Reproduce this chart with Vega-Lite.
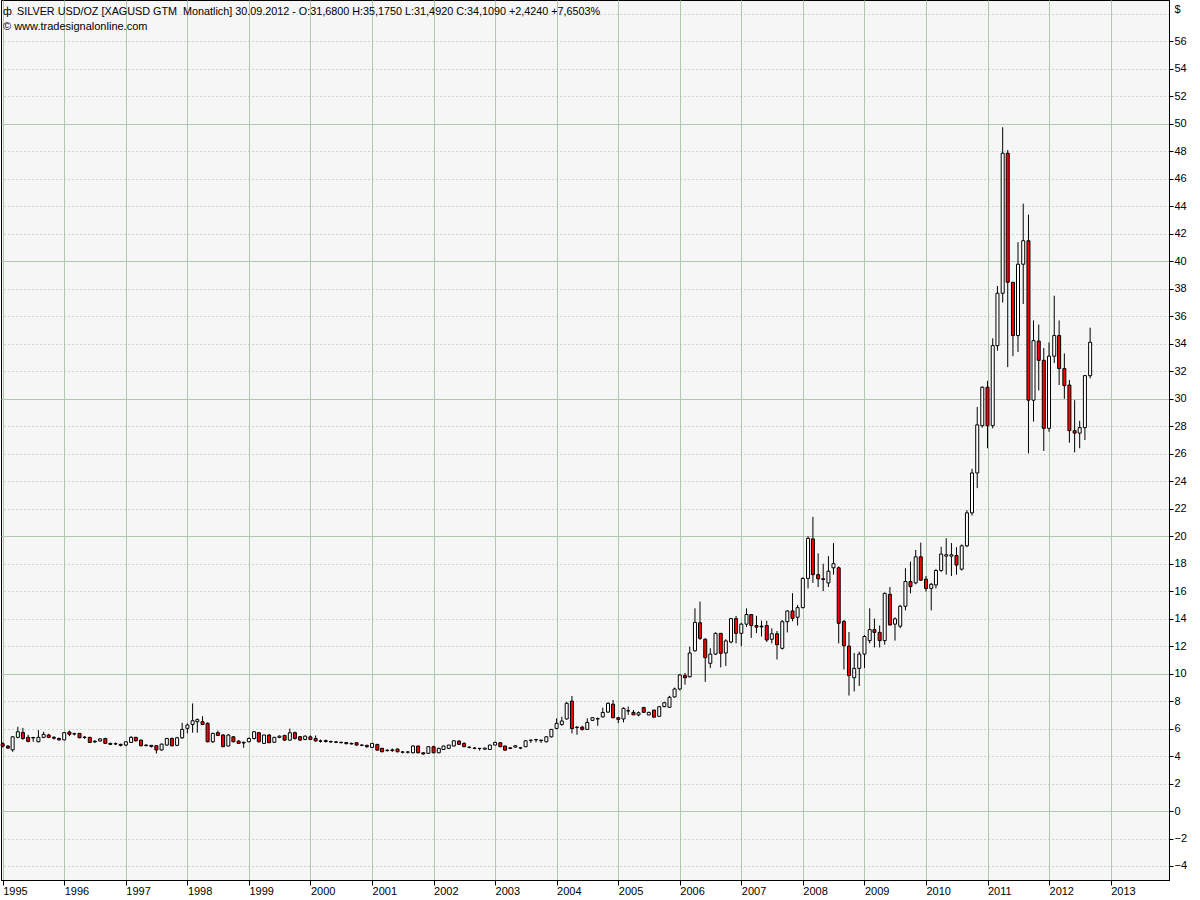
{
  "$schema": "https://vega.github.io/schema/vega-lite/v6.json",
  "autosize": "none",
  "width": 1168,
  "height": 880,
  "padding": {"left": 1, "top": 0, "right": 31, "bottom": 20},
  "background": "#ffffff",
  "config": {
    "font": "Liberation Sans",
    "view": {"fill": "#f6f6f6", "stroke": "#000000", "strokeWidth": 1}
  },
  "title": {
    "text": "ф\u2009\u00a0SILVER USD/OZ [XAGUSD GTM\u00a0 Monatlich] 30.09.2012 - O:31,6800 H:35,1750 L:31,4920 C:34,1090 +2,4240 +7,6503%",
    "subtitle": "© www.tradesignalonline.com",
    "anchor": "start",
    "frame": "group",
    "offset": -32,
    "dx": 2,
    "font": "Liberation Sans",
    "fontSize": 10.8,
    "fontWeight": "normal",
    "color": "#000000",
    "subtitleFont": "Liberation Sans",
    "subtitleFontSize": 11,
    "subtitleColor": "#000000",
    "subtitlePadding": 4
  },
  "data": {
    "values": [
      {"d":"1995-01-01","o":4.90,"h":5.00,"l":4.62,"c":4.72},
      {"d":"1995-02-01","o":4.72,"h":4.80,"l":4.52,"c":4.58},
      {"d":"1995-03-01","o":4.45,"h":5.45,"l":4.31,"c":5.40},
      {"d":"1995-04-01","o":5.36,"h":6.13,"l":5.30,"c":5.77},
      {"d":"1995-05-01","o":5.72,"h":6.05,"l":5.18,"c":5.28},
      {"d":"1995-06-01","o":5.36,"h":5.55,"l":5.00,"c":5.07},
      {"d":"1995-07-01","o":5.35,"h":5.40,"l":5.04,"c":5.32},
      {"d":"1995-08-01","o":5.04,"h":5.89,"l":5.00,"c":5.36},
      {"d":"1995-09-01","o":5.36,"h":5.77,"l":5.30,"c":5.58},
      {"d":"1995-10-01","o":5.53,"h":5.62,"l":5.30,"c":5.36},
      {"d":"1995-11-01","o":5.36,"h":5.45,"l":5.20,"c":5.30},
      {"d":"1995-12-01","o":5.28,"h":5.35,"l":5.12,"c":5.18},
      {"d":"1996-01-01","o":5.18,"h":5.75,"l":5.15,"c":5.70},
      {"d":"1996-02-01","o":5.75,"h":5.85,"l":5.45,"c":5.58},
      {"d":"1996-03-01","o":5.60,"h":5.70,"l":5.50,"c":5.63},
      {"d":"1996-04-01","o":5.65,"h":5.68,"l":5.30,"c":5.33},
      {"d":"1996-05-01","o":5.35,"h":5.45,"l":5.25,"c":5.38},
      {"d":"1996-06-01","o":5.36,"h":5.40,"l":4.95,"c":4.99},
      {"d":"1996-07-01","o":5.08,"h":5.15,"l":4.95,"c":5.03},
      {"d":"1996-08-01","o":5.10,"h":5.30,"l":5.05,"c":5.25},
      {"d":"1996-09-01","o":5.28,"h":5.32,"l":4.90,"c":4.92},
      {"d":"1996-10-01","o":4.92,"h":4.98,"l":4.80,"c":4.85},
      {"d":"1996-11-01","o":4.88,"h":4.98,"l":4.80,"c":4.90},
      {"d":"1996-12-01","o":4.85,"h":4.90,"l":4.70,"c":4.78},
      {"d":"1997-01-01","o":4.80,"h":5.05,"l":4.72,"c":5.04},
      {"d":"1997-02-01","o":4.99,"h":5.45,"l":4.95,"c":5.36},
      {"d":"1997-03-01","o":5.36,"h":5.40,"l":5.05,"c":5.11},
      {"d":"1997-04-01","o":5.16,"h":5.20,"l":4.70,"c":4.75},
      {"d":"1997-05-01","o":4.76,"h":4.85,"l":4.70,"c":4.80},
      {"d":"1997-06-01","o":4.78,"h":4.80,"l":4.62,"c":4.70},
      {"d":"1997-07-01","o":4.75,"h":4.78,"l":4.19,"c":4.44},
      {"d":"1997-08-01","o":4.44,"h":4.90,"l":4.40,"c":4.87},
      {"d":"1997-09-01","o":4.80,"h":5.32,"l":4.75,"c":5.28},
      {"d":"1997-10-01","o":5.28,"h":5.35,"l":4.70,"c":4.75},
      {"d":"1997-11-01","o":4.78,"h":5.40,"l":4.72,"c":5.33},
      {"d":"1997-12-01","o":5.33,"h":6.42,"l":5.25,"c":5.94},
      {"d":"1998-01-01","o":6.02,"h":6.38,"l":5.65,"c":6.26},
      {"d":"1998-02-01","o":6.30,"h":7.83,"l":5.70,"c":6.57},
      {"d":"1998-03-01","o":6.50,"h":6.74,"l":5.70,"c":6.65},
      {"d":"1998-04-01","o":6.50,"h":6.90,"l":6.25,"c":6.30},
      {"d":"1998-05-01","o":6.38,"h":6.45,"l":5.00,"c":5.04},
      {"d":"1998-06-01","o":5.04,"h":5.70,"l":4.95,"c":5.65},
      {"d":"1998-07-01","o":5.70,"h":5.85,"l":5.45,"c":5.50},
      {"d":"1998-08-01","o":5.53,"h":5.60,"l":4.65,"c":4.68},
      {"d":"1998-09-01","o":4.73,"h":5.60,"l":4.70,"c":5.53},
      {"d":"1998-10-01","o":5.40,"h":5.45,"l":5.00,"c":5.04},
      {"d":"1998-11-01","o":5.09,"h":5.15,"l":4.88,"c":4.92},
      {"d":"1998-12-01","o":5.00,"h":5.05,"l":4.60,"c":4.95},
      {"d":"1999-01-01","o":5.04,"h":5.35,"l":5.00,"c":5.28},
      {"d":"1999-02-01","o":5.28,"h":5.80,"l":5.20,"c":5.77},
      {"d":"1999-03-01","o":5.70,"h":5.75,"l":4.98,"c":5.04},
      {"d":"1999-04-01","o":4.92,"h":5.55,"l":4.90,"c":5.53},
      {"d":"1999-05-01","o":5.53,"h":5.60,"l":4.95,"c":4.97},
      {"d":"1999-06-01","o":5.00,"h":5.40,"l":4.95,"c":5.36},
      {"d":"1999-07-01","o":5.36,"h":5.50,"l":5.30,"c":5.45},
      {"d":"1999-08-01","o":5.50,"h":5.55,"l":5.10,"c":5.16},
      {"d":"1999-09-01","o":5.16,"h":6.00,"l":5.10,"c":5.70},
      {"d":"1999-10-01","o":5.70,"h":5.78,"l":5.20,"c":5.28},
      {"d":"1999-11-01","o":5.41,"h":5.45,"l":5.10,"c":5.16},
      {"d":"1999-12-01","o":5.21,"h":5.50,"l":5.15,"c":5.45},
      {"d":"2000-01-01","o":5.40,"h":5.50,"l":5.15,"c":5.21},
      {"d":"2000-02-01","o":5.28,"h":5.50,"l":5.05,"c":5.10},
      {"d":"2000-03-01","o":5.10,"h":5.20,"l":4.98,"c":5.08},
      {"d":"2000-04-01","o":5.12,"h":5.20,"l":4.98,"c":5.06},
      {"d":"2000-05-01","o":5.06,"h":5.12,"l":4.95,"c":5.03},
      {"d":"2000-06-01","o":5.03,"h":5.10,"l":4.95,"c":5.00},
      {"d":"2000-07-01","o":5.00,"h":5.05,"l":4.90,"c":4.98},
      {"d":"2000-08-01","o":4.98,"h":5.02,"l":4.85,"c":4.90},
      {"d":"2000-09-01","o":4.92,"h":4.98,"l":4.85,"c":4.88},
      {"d":"2000-10-01","o":4.97,"h":5.00,"l":4.75,"c":4.80},
      {"d":"2000-11-01","o":4.80,"h":4.85,"l":4.72,"c":4.78},
      {"d":"2000-12-01","o":4.78,"h":4.82,"l":4.60,"c":4.68},
      {"d":"2001-01-01","o":4.63,"h":4.95,"l":4.58,"c":4.92},
      {"d":"2001-02-01","o":4.85,"h":4.88,"l":4.40,"c":4.43},
      {"d":"2001-03-01","o":4.56,"h":4.60,"l":4.28,"c":4.31},
      {"d":"2001-04-01","o":4.40,"h":4.48,"l":4.32,"c":4.43},
      {"d":"2001-05-01","o":4.45,"h":4.55,"l":4.30,"c":4.40},
      {"d":"2001-06-01","o":4.51,"h":4.55,"l":4.28,"c":4.31},
      {"d":"2001-07-01","o":4.30,"h":4.35,"l":4.20,"c":4.28},
      {"d":"2001-08-01","o":4.28,"h":4.35,"l":4.18,"c":4.30},
      {"d":"2001-09-01","o":4.24,"h":4.80,"l":4.20,"c":4.73},
      {"d":"2001-10-01","o":4.73,"h":4.75,"l":4.20,"c":4.24},
      {"d":"2001-11-01","o":4.24,"h":4.25,"l":4.10,"c":4.15},
      {"d":"2001-12-01","o":4.20,"h":4.70,"l":4.15,"c":4.68},
      {"d":"2002-01-01","o":4.68,"h":4.75,"l":4.20,"c":4.24},
      {"d":"2002-02-01","o":4.24,"h":4.60,"l":4.20,"c":4.56},
      {"d":"2002-03-01","o":4.48,"h":4.75,"l":4.45,"c":4.73},
      {"d":"2002-04-01","o":4.56,"h":4.82,"l":4.50,"c":4.80},
      {"d":"2002-05-01","o":4.73,"h":5.13,"l":4.70,"c":5.11},
      {"d":"2002-06-01","o":5.09,"h":5.15,"l":4.80,"c":4.85},
      {"d":"2002-07-01","o":4.92,"h":5.00,"l":4.65,"c":4.68},
      {"d":"2002-08-01","o":4.65,"h":4.70,"l":4.55,"c":4.63},
      {"d":"2002-09-01","o":4.58,"h":4.65,"l":4.50,"c":4.56},
      {"d":"2002-10-01","o":4.56,"h":4.58,"l":4.40,"c":4.55},
      {"d":"2002-11-01","o":4.50,"h":4.60,"l":4.45,"c":4.58},
      {"d":"2002-12-01","o":4.48,"h":4.82,"l":4.45,"c":4.80},
      {"d":"2003-01-01","o":4.80,"h":5.05,"l":4.78,"c":4.99},
      {"d":"2003-02-01","o":4.97,"h":4.99,"l":4.65,"c":4.68},
      {"d":"2003-03-01","o":4.73,"h":4.75,"l":4.40,"c":4.43},
      {"d":"2003-04-01","o":4.55,"h":4.65,"l":4.50,"c":4.60},
      {"d":"2003-05-01","o":4.65,"h":4.80,"l":4.60,"c":4.75},
      {"d":"2003-06-01","o":4.58,"h":4.65,"l":4.50,"c":4.60},
      {"d":"2003-07-01","o":4.68,"h":5.15,"l":4.65,"c":5.11},
      {"d":"2003-08-01","o":5.14,"h":5.18,"l":4.95,"c":5.16},
      {"d":"2003-09-01","o":5.18,"h":5.25,"l":5.00,"c":5.20},
      {"d":"2003-10-01","o":5.16,"h":5.18,"l":4.95,"c":5.12},
      {"d":"2003-11-01","o":5.04,"h":5.45,"l":5.00,"c":5.40},
      {"d":"2003-12-01","o":5.40,"h":5.95,"l":5.35,"c":5.94},
      {"d":"2004-01-01","o":6.01,"h":6.74,"l":5.95,"c":6.38},
      {"d":"2004-02-01","o":6.30,"h":6.86,"l":6.20,"c":6.55},
      {"d":"2004-03-01","o":6.70,"h":7.95,"l":6.65,"c":7.84},
      {"d":"2004-04-01","o":8.00,"h":8.37,"l":5.65,"c":6.00},
      {"d":"2004-05-01","o":6.10,"h":6.18,"l":5.55,"c":6.08},
      {"d":"2004-06-01","o":6.10,"h":6.20,"l":5.85,"c":5.94},
      {"d":"2004-07-01","o":5.94,"h":6.74,"l":5.90,"c":6.45},
      {"d":"2004-08-01","o":6.60,"h":6.82,"l":6.55,"c":6.79},
      {"d":"2004-09-01","o":6.72,"h":6.80,"l":6.20,"c":6.70},
      {"d":"2004-10-01","o":6.85,"h":7.52,"l":6.80,"c":7.17},
      {"d":"2004-11-01","o":7.20,"h":7.90,"l":7.15,"c":7.84},
      {"d":"2004-12-01","o":7.77,"h":8.08,"l":6.75,"c":6.79},
      {"d":"2005-01-01","o":6.79,"h":6.85,"l":6.40,"c":6.67},
      {"d":"2005-02-01","o":6.70,"h":7.55,"l":6.45,"c":7.47},
      {"d":"2005-03-01","o":7.30,"h":7.60,"l":7.00,"c":7.28},
      {"d":"2005-04-01","o":7.18,"h":7.35,"l":6.99,"c":7.00},
      {"d":"2005-05-01","o":6.99,"h":7.25,"l":6.90,"c":7.15},
      {"d":"2005-06-01","o":7.53,"h":7.58,"l":7.15,"c":7.18},
      {"d":"2005-07-01","o":6.99,"h":7.22,"l":6.98,"c":7.18},
      {"d":"2005-08-01","o":7.35,"h":7.36,"l":6.82,"c":6.83},
      {"d":"2005-09-01","o":6.89,"h":7.65,"l":6.88,"c":7.59},
      {"d":"2005-10-01","o":7.60,"h":7.95,"l":7.55,"c":7.88},
      {"d":"2005-11-01","o":7.55,"h":8.38,"l":7.50,"c":8.28},
      {"d":"2005-12-01","o":8.30,"h":8.98,"l":8.25,"c":8.88},
      {"d":"2006-01-01","o":8.88,"h":9.97,"l":8.78,"c":9.90},
      {"d":"2006-02-01","o":9.85,"h":10.05,"l":9.20,"c":9.70},
      {"d":"2006-03-01","o":9.77,"h":11.96,"l":9.72,"c":11.50},
      {"d":"2006-04-01","o":11.66,"h":14.75,"l":11.60,"c":13.73},
      {"d":"2006-05-01","o":13.70,"h":15.24,"l":12.45,"c":12.57},
      {"d":"2006-06-01","o":12.50,"h":12.57,"l":9.40,"c":11.16},
      {"d":"2006-07-01","o":10.75,"h":11.85,"l":10.40,"c":11.42},
      {"d":"2006-08-01","o":11.42,"h":13.00,"l":11.35,"c":12.93},
      {"d":"2006-09-01","o":12.93,"h":12.95,"l":10.45,"c":11.48},
      {"d":"2006-10-01","o":11.50,"h":12.50,"l":10.55,"c":12.38},
      {"d":"2006-11-01","o":12.30,"h":14.05,"l":12.20,"c":14.00},
      {"d":"2006-12-01","o":14.00,"h":14.20,"l":12.20,"c":12.93},
      {"d":"2007-01-01","o":12.93,"h":13.70,"l":12.00,"c":13.60},
      {"d":"2007-02-01","o":13.60,"h":14.75,"l":13.40,"c":14.30},
      {"d":"2007-03-01","o":14.30,"h":14.32,"l":12.60,"c":13.50},
      {"d":"2007-04-01","o":13.50,"h":14.20,"l":12.95,"c":13.38},
      {"d":"2007-05-01","o":13.45,"h":13.85,"l":12.70,"c":13.40},
      {"d":"2007-06-01","o":13.50,"h":13.85,"l":12.30,"c":12.45},
      {"d":"2007-07-01","o":12.50,"h":13.30,"l":12.20,"c":12.90},
      {"d":"2007-08-01","o":12.90,"h":13.10,"l":11.03,"c":12.10},
      {"d":"2007-09-01","o":11.84,"h":13.90,"l":11.75,"c":13.78},
      {"d":"2007-10-01","o":13.78,"h":14.60,"l":13.00,"c":14.56},
      {"d":"2007-11-01","o":14.56,"h":15.85,"l":13.80,"c":14.02},
      {"d":"2007-12-01","o":14.10,"h":15.00,"l":13.50,"c":14.80},
      {"d":"2008-01-01","o":14.80,"h":17.00,"l":14.75,"c":16.93},
      {"d":"2008-02-01","o":16.93,"h":20.00,"l":16.20,"c":19.84},
      {"d":"2008-03-01","o":19.80,"h":21.40,"l":16.60,"c":17.20},
      {"d":"2008-04-01","o":17.20,"h":18.75,"l":16.30,"c":16.90},
      {"d":"2008-05-01","o":16.90,"h":18.00,"l":16.00,"c":16.85},
      {"d":"2008-06-01","o":16.60,"h":18.55,"l":16.30,"c":17.45},
      {"d":"2008-07-01","o":17.70,"h":19.50,"l":17.20,"c":18.00},
      {"d":"2008-08-01","o":17.70,"h":17.80,"l":12.20,"c":13.66},
      {"d":"2008-09-01","o":13.80,"h":13.90,"l":10.30,"c":12.03},
      {"d":"2008-10-01","o":12.00,"h":13.03,"l":8.40,"c":9.85},
      {"d":"2008-11-01","o":9.70,"h":11.50,"l":8.70,"c":10.38},
      {"d":"2008-12-01","o":10.38,"h":11.60,"l":9.10,"c":11.42},
      {"d":"2009-01-01","o":11.42,"h":12.80,"l":10.40,"c":12.70},
      {"d":"2009-02-01","o":12.40,"h":14.75,"l":12.20,"c":13.20},
      {"d":"2009-03-01","o":13.20,"h":14.00,"l":11.90,"c":13.00},
      {"d":"2009-04-01","o":13.00,"h":13.50,"l":11.90,"c":12.40},
      {"d":"2009-05-01","o":12.40,"h":15.90,"l":12.10,"c":15.84},
      {"d":"2009-06-01","o":15.77,"h":16.30,"l":13.50,"c":13.54},
      {"d":"2009-07-01","o":13.60,"h":14.10,"l":12.40,"c":13.98},
      {"d":"2009-08-01","o":13.45,"h":15.00,"l":13.30,"c":14.90},
      {"d":"2009-09-01","o":14.90,"h":17.67,"l":14.60,"c":16.70},
      {"d":"2009-10-01","o":16.70,"h":18.15,"l":15.84,"c":16.33},
      {"d":"2009-11-01","o":16.60,"h":19.00,"l":16.50,"c":18.50},
      {"d":"2009-12-01","o":18.50,"h":19.53,"l":16.75,"c":16.80},
      {"d":"2010-01-01","o":16.87,"h":17.10,"l":15.97,"c":16.20},
      {"d":"2010-02-01","o":16.20,"h":16.60,"l":14.60,"c":16.50},
      {"d":"2010-03-01","o":16.45,"h":17.60,"l":16.20,"c":17.50},
      {"d":"2010-04-01","o":17.50,"h":19.23,"l":17.40,"c":18.70},
      {"d":"2010-05-01","o":18.55,"h":19.85,"l":17.20,"c":18.65},
      {"d":"2010-06-01","o":18.55,"h":19.50,"l":17.10,"c":18.65},
      {"d":"2010-07-01","o":18.60,"h":19.20,"l":17.20,"c":17.90},
      {"d":"2010-08-01","o":17.60,"h":19.40,"l":17.50,"c":19.30},
      {"d":"2010-09-01","o":19.30,"h":21.90,"l":19.20,"c":21.70},
      {"d":"2010-10-01","o":21.70,"h":24.90,"l":21.50,"c":24.60},
      {"d":"2010-11-01","o":24.60,"h":29.40,"l":23.50,"c":28.10},
      {"d":"2010-12-01","o":28.04,"h":30.90,"l":27.90,"c":30.84},
      {"d":"2011-01-01","o":30.84,"h":31.30,"l":26.40,"c":28.04},
      {"d":"2011-02-01","o":28.04,"h":34.40,"l":27.85,"c":33.87},
      {"d":"2011-03-01","o":33.87,"h":38.21,"l":33.50,"c":37.68},
      {"d":"2011-04-01","o":37.68,"h":49.76,"l":37.00,"c":47.87},
      {"d":"2011-05-01","o":47.87,"h":48.10,"l":32.30,"c":38.48},
      {"d":"2011-06-01","o":38.48,"h":38.50,"l":33.10,"c":34.60},
      {"d":"2011-07-01","o":34.60,"h":41.40,"l":33.40,"c":39.79},
      {"d":"2011-08-01","o":39.79,"h":44.20,"l":36.90,"c":41.50},
      {"d":"2011-09-01","o":41.50,"h":43.40,"l":26.03,"c":29.90},
      {"d":"2011-10-01","o":29.90,"h":35.70,"l":28.34,"c":34.23},
      {"d":"2011-11-01","o":34.20,"h":35.40,"l":30.60,"c":32.80},
      {"d":"2011-12-01","o":32.80,"h":33.70,"l":26.20,"c":27.85},
      {"d":"2012-01-01","o":27.85,"h":34.10,"l":27.60,"c":33.10},
      {"d":"2012-02-01","o":33.10,"h":37.50,"l":32.60,"c":34.60},
      {"d":"2012-03-01","o":34.60,"h":35.70,"l":31.00,"c":32.20},
      {"d":"2012-04-01","o":32.20,"h":33.30,"l":30.00,"c":30.96},
      {"d":"2012-05-01","o":31.00,"h":31.37,"l":26.80,"c":27.68},
      {"d":"2012-06-01","o":27.68,"h":29.90,"l":26.10,"c":27.50},
      {"d":"2012-07-01","o":27.50,"h":28.40,"l":26.40,"c":27.90},
      {"d":"2012-08-01","o":27.90,"h":31.70,"l":27.00,"c":31.685},
      {"d":"2012-09-01","o":31.68,"h":35.175,"l":31.492,"c":34.109}
    ]
  },
  "encoding": {
    "x": {
      "field": "d",
      "type": "temporal",
      "scale": {"domain": [{"year": 1994, "month": 12, "date": 22}, {"year": 2013, "month": 12, "date": 13}], "nice": false, "padding": 0},
      "axis": {
        "title": null,
        "format": "%Y",
        "tickCount": {"interval": "year", "step": 1},
        "grid": true,
        "gridColor": "#b0c8b0",
        "gridWidth": 1,
        "domain": true,
        "domainColor": "#000000",
        "ticks": true,
        "tickColor": "#000000",
        "tickSize": 5,
        "labelAlign": "left",
        "labelDx": 1,
        "labelPadding": 0,
        "labelFont": "Liberation Sans",
        "labelFontSize": 11,
        "labelColor": "#000000",
        "labelFlush": false,
        "labelOverlap": false
      }
    }
  },
  "layer": [
    {
      "mark": {"type": "rule", "color": "#000000", "strokeWidth": 1},
      "encoding": {
        "y": {
          "field": "l",
          "type": "quantitative",
          "scale": {"domain": [-5.02, 59.02], "nice": false, "zero": false, "padding": 0},
          "axis": {
            "orient": "right",
            "values": [-4,-2,0,2,4,6,8,10,12,14,16,18,20,22,24,26,28,30,32,34,36,38,40,42,44,46,48,50,52,54,56,58],
            "tickCount": 60,
            "labelExpr": "datum.value == 58 ? '' : datum.label",
            "grid": true,
            "gridColor": {"condition": {"test": "datum.value % 10 === 0", "value": "#b0c8b0"}, "value": "#a0b8a0"},
            "gridDash": {"condition": {"test": "datum.value % 10 === 0", "value": []}, "value": [1, 3]},
            "domain": true,
            "domainColor": "#000000",
            "ticks": true,
            "tickColor": {"condition": {"test": "datum.value == 58", "value": "transparent"}, "value": "#000000"},
            "tickSize": 4,
            "labelPadding": 1,
            "labelFont": "Liberation Sans",
            "labelFontSize": 11,
            "labelColor": "#000000",
            "labelOverlap": false,
            "labelFlush": false,
            "title": "$",
            "titleAngle": 0,
            "titleX": 5,
            "titleY": 3,
            "titleAlign": "left",
            "titleBaseline": "top",
            "titleFont": "Liberation Sans",
            "titleFontSize": 11,
            "titleFontWeight": "normal",
            "titleColor": "#000000"
          }
        },
        "y2": {"field": "h"}
      }
    },
    {
      "mark": {"type": "bar", "orient": "vertical", "size": 3, "stroke": "#000000", "strokeWidth": 1},
      "encoding": {
        "y": {"field": "o", "type": "quantitative"},
        "y2": {"field": "c"},
        "fill": {"condition": {"test": "datum.c >= datum.o", "value": "#ffffff"}, "value": "#ff0000"}
      }
    }
  ]
}
